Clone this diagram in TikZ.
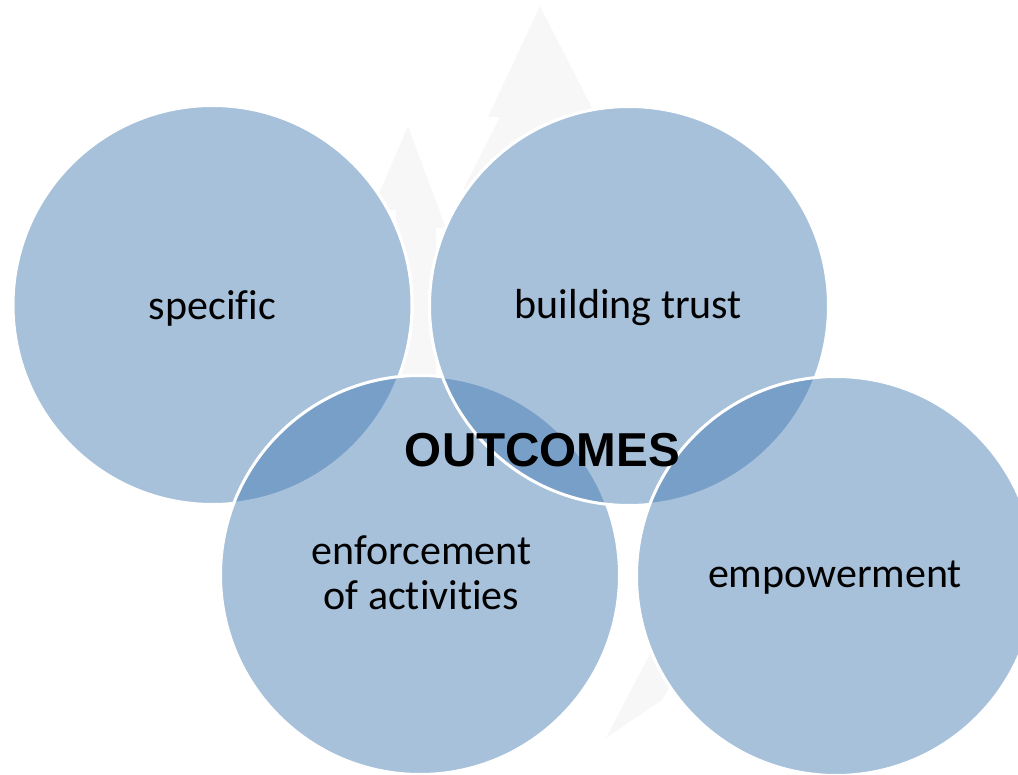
\documentclass[tikz,border=0pt]{standalone}
\usepackage{fontspec}
\setmainfont[Ligatures={NoCommon,NoRequired,NoContextual}]{Carlito}
\newfontfamily\headfont{Liberation Sans}
\definecolor{vennblue}{RGB}{61,118,177}
\definecolor{ghost}{RGB}{247,247,247}
\tikzset{
  venn/.style={circle, minimum size=399pt, inner sep=0pt, fill=vennblue,
    fill opacity=0.45, draw=white, draw opacity=1, line width=3pt},
  under/.style={circle, minimum size=402pt, inner sep=0pt, fill=white, draw=none},
  lbl/.style={font=\fontsize{42}{45}\selectfont, text=black, anchor=base,
    inner sep=0pt, align=center},
  ghostarrow/.style={fill=ghost, draw=none}
}
\begin{document}
\begin{tikzpicture}[x=1pt,y=-1pt]
\useasboundingbox (0,0) rectangle (1018,775);
% faint background arrows
\fill[ghostarrow] (540,6) -- (592,108) -- (600,125)
  .. controls (760,300) and (760,600) .. (700,640)
  -- (662,700) -- (606,738) -- (652,650)
  .. controls (720,480) and (640,260) .. (463,190)
  -- (500,117) -- (488,117) -- cycle;
\fill[ghostarrow] (408,126) -- (446,228) -- (436,228) -- (436,400)
  -- (396,400) -- (396,210) -- (372,210) -- cycle;
% opaque white underlay so the arrows do not show through
\node[under] (uspec) at (212.5,305) {};
\node[under] (uenf) at (420,575) {};
\node[under] (utrust) at (629,306) {};
\node[under] (uemp) at (836,576) {};
% circles
\node[venn] (spec) at (212.5,305) {};
\node[venn] (enf) at (420,575) {};
\node[venn] (trust) at (629,306) {};
\node[venn] (emp) at (836,576) {};
% labels
\node[lbl] (tspec) at (212.5,320) {specific};
\node[lbl] (ttrust) at (628.5,319) {building trust};
\node[lbl] (tenf) at (421.5,609) {enforcement\\of activities};
\node[lbl] (temp) at (835,587) {empowerment};
\node[font=\headfont\bfseries\fontsize{47.6}{50}\selectfont, inner sep=0pt, anchor=base]
  (out) at (542.5,467) {OUTCOMES};
\end{tikzpicture}
\end{document}
